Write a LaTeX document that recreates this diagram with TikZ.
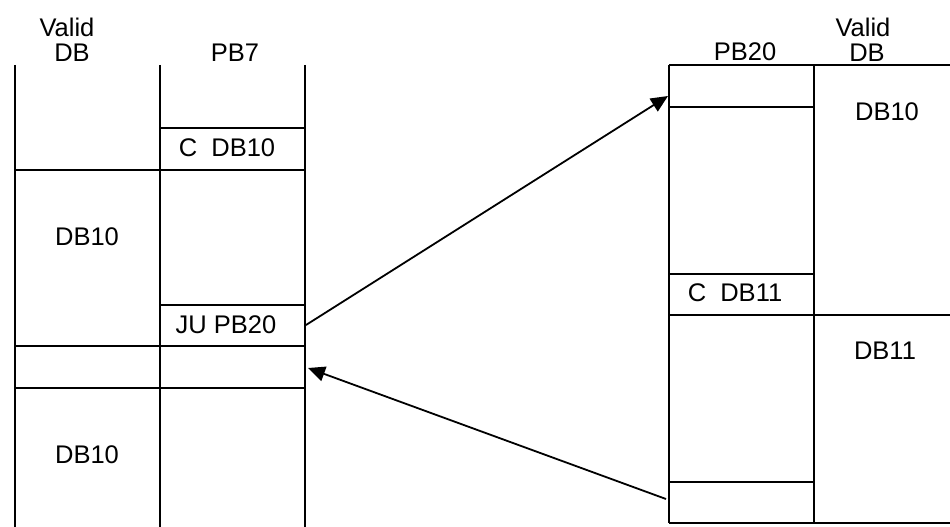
\documentclass[tikz,border=0pt]{standalone}
\usepackage{fontspec}
\setmainfont{Liberation Sans}
\usetikzlibrary{arrows.meta}
\begin{document}
\begin{tikzpicture}[x=1pt,y=-1pt,
  tbl/.style={line width=2pt},
  lbl/.style={inner sep=0pt,font=\fontsize{25.5}{30}\selectfont},
  conn/.style={line width=1.8pt,-{Triangle[length=17pt,width=15pt]}}]
\useasboundingbox (0,0) rectangle (950,527);
% left table
\draw[tbl] (15,65) -- (15,527) (160,65) -- (160,527) (305,65) -- (305,527);
\draw[tbl] (160,128) -- (305,128);
\draw[tbl] (15,170) -- (305,170);
\draw[tbl] (160,305) -- (305,305);
\draw[tbl] (15,346) -- (305,346);
\draw[tbl] (15,388) -- (305,388);
\node[lbl] (lvalid) at (67,27) {Valid};
\node[lbl] (ldb) at (72,53) {DB};
\node[lbl] (pb7) at (235,53) {PB7};
\node[lbl] (cdb10) at (227,148) {C~~DB10};
\node[lbl] (db10a) at (87,237) {DB10};
\node[lbl] (jupb20) at (226,325) {JU PB20};
\node[lbl] (db10b) at (87,455) {DB10};
% right table
\draw[tbl] (669,65.5) -- (669,523) (814,65.5) -- (814,523);
\draw[tbl] (669,65.5) -- (950,65.5);
\draw[tbl] (669,107) -- (814,107);
\draw[tbl] (669,274) -- (814,274);
\draw[tbl] (669,315) -- (950,315);
\draw[tbl] (669,482) -- (814,482);
\draw[tbl] (669,523) -- (950,523);
\node[lbl] (pb20) at (745,52) {PB20};
\node[lbl] (rvalid) at (863,27) {Valid};
\node[lbl] (rdb) at (867,53) {DB};
\node[lbl] (db10r) at (887,112) {DB10};
\node[lbl] (cdb11) at (735,293) {C~~DB11};
\node[lbl] (db11) at (885,351) {DB11};
% connectors
\coordinate (jstart) at (306,325);
\coordinate (jend) at (668,96);
\coordinate (rstart) at (666,499);
\coordinate (rend) at (308,368);
\draw[conn] (jstart) -- (jend);
\draw[conn] (rstart) -- (rend);
\end{tikzpicture}
\end{document}
